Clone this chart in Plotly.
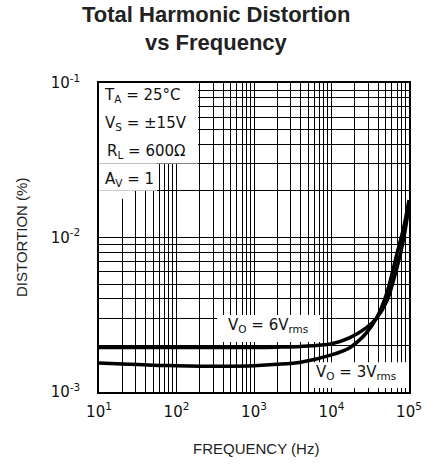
import plotly.graph_objects as go

# ---- data ----
freq_hz = [10, 20, 50, 100, 200, 500, 1000, 2000, 4000, 10000, 17000, 28000, 38000, 52000, 70000, 85000, 100000]
thd_6vrms = [0.00194, 0.00194, 0.00194, 0.00194, 0.00194, 0.00194, 0.00194, 0.00195, 0.00197, 0.00205, 0.00224, 0.0026, 0.0030, 0.0039, 0.0064, 0.0097, 0.016]
thd_3vrms = [0.00154, 0.00152, 0.00149, 0.00148, 0.00147, 0.00147, 0.00148, 0.00151, 0.00156, 0.00174, 0.00193, 0.0024, 0.0030, 0.0044, 0.0079, 0.0115, 0.0175]

x_tick_vals = [10, 100, 1000, 10000, 100000]
x_tick_text = ["10<sup>1</sup>", "10<sup>2</sup>", "10<sup>3</sup>", "10<sup>4</sup>", "10<sup>5</sup>"]
y_tick_vals = [0.001, 0.01, 0.1]
y_tick_text = ["10<sup>-3</sup>", "10<sup>-2</sup>", "10<sup>-1</sup>"]

x_minor = [m * d for d in (10, 100, 1000, 10000) for m in range(2, 10)]
y_minor = [m * d for d in (0.001, 0.01) for m in range(2, 10)]

FONT = "Liberation Sans"
LABEL_FONT = "DejaVu Sans"

fig = go.Figure()
fig.add_trace(go.Scatter(x=freq_hz, y=thd_6vrms, mode="lines",
                         line=dict(color="black", width=3.5, shape="spline", smoothing=0.8),
                         showlegend=False, hoverinfo="skip"))
fig.add_trace(go.Scatter(x=freq_hz, y=thd_3vrms, mode="lines",
                         line=dict(color="black", width=3.5, shape="spline", smoothing=0.8),
                         showlegend=False, hoverinfo="skip"))

# white areas behind the labels (cover the grid, below the curves)
white_boxes = [
    (10, 190, 0.0301, 0.1),
    (10, 56, 0.0201, 0.0301),
    (10, 28, 0.0178, 0.0201),
    (333, 7100, 0.00211, 0.00315),
    (5600, 100000, 0.00106, 0.00156),
]
for x0, x1, y0, y1 in white_boxes:
    fig.add_shape(type="rect", xref="x", yref="y", x0=x0, x1=x1, y0=y0, y1=y1,
                  fillcolor="white", line=dict(width=0), layer="between")

L, R, T, B = 99, 18, 83, 77
W, H = 427, 469
pw, ph = W - L - R, H - T - B

def px(xp):
    return (xp - L) / pw

def py(yp):
    return (H - B - yp) / ph

ann = [
    ("T<sub>A</sub> = 25°C", 102, 95),
    ("V<sub>S</sub> = ±15V", 103, 123),
    ("R<sub>L</sub> = 600Ω", 105, 151),
    ("A<sub>V</sub> = 1", 103, 179),
    ("V<sub>O</sub> = 6V<sub>rms</sub>", 226, 325),
    ("V<sub>O</sub> = 3V<sub>rms</sub>", 314, 372),
]
for text, xp, yp in ann:
    fig.add_annotation(text=text, x=px(xp), y=py(yp), xref="paper", yref="paper",
                       xanchor="left", yanchor="middle", showarrow=False,
                       font=dict(family=LABEL_FONT, size=15, color="#111"))

for text, xp, yp, size in [("<b>Total Harmonic Distortion</b>", 216, 15, 22),
                           ("<b>vs Frequency</b>", 216, 43, 22),
                           ("FREQUENCY (Hz)", 256, 448, 15)]:
    fig.add_annotation(text=text, x=px(xp), y=py(yp), xref="paper", yref="paper",
                       xanchor="center", yanchor="middle", showarrow=False,
                       font=dict(family=FONT, size=size, color="#222"))
fig.add_annotation(text="DISTORTION (%)", x=px(22), y=py(238), textangle=-90,
                   xref="paper", yref="paper", xanchor="center", yanchor="middle",
                   showarrow=False, font=dict(family=FONT, size=15, color="#222"))

axis_common = dict(showline=True, linecolor="black", linewidth=1.5, mirror=True,
                   showgrid=True, gridcolor="black", gridwidth=1.3, ticks="",
                   zeroline=False, automargin=False, ticklabeloverflow="allow",
                   tickfont=dict(family=LABEL_FONT, size=15, color="#111"))

fig.update_xaxes(type="log", range=[1, 5], tickmode="array", tickvals=x_tick_vals,
                 ticktext=x_tick_text, ticklabelstandoff=5,
                 minor=dict(tickmode="array", tickvals=x_minor, showgrid=True,
                            gridcolor="black", gridwidth=1.3, ticks=""),
                 **axis_common)
fig.update_yaxes(type="log", range=[-3, -1], tickmode="array", tickvals=y_tick_vals,
                 ticktext=y_tick_text, ticklabelstandoff=14,
                 minor=dict(tickmode="array", tickvals=y_minor, showgrid=True,
                            gridcolor="black", gridwidth=1.3, ticks=""),
                 **axis_common)

fig.update_layout(width=W, height=H, margin=dict(l=L, r=R, t=T, b=B, autoexpand=False),
                  paper_bgcolor="white", plot_bgcolor="white")

fig.write_html("out.html", config={"displayModeBar": False},
               post_script="document.body.style.margin='0';")
